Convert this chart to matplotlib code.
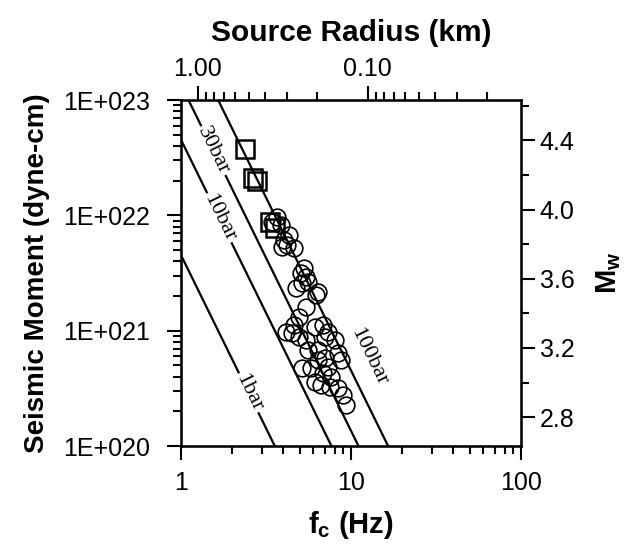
import numpy as np
import matplotlib
matplotlib.use('Agg')
import matplotlib.pyplot as plt
from matplotlib.ticker import FixedLocator, FixedFormatter, FuncFormatter, LogLocator, NullFormatter

plt.rcParams['font.family'] = ['Liberation Sans', 'DejaVu Sans']
plt.rcParams['mathtext.fontset'] = 'custom'
plt.rcParams['mathtext.rm'] = 'Liberation Sans'
plt.rcParams['mathtext.bf'] = 'Liberation Sans:bold'

# corner frequency (Hz) and seismic moment (dyne-cm)
sq_fc = [2.39, 2.66, 2.80, 3.34, 3.57]
sq_m0 = [3.76e22, 2.11e22, 1.99e22, 8.75e21, 7.76e21]

circ_fc = [3.66, 3.43, 3.87, 4.30, 4.02, 4.60, 4.19, 3.92, 5.26, 5.05,
           5.40, 4.72, 5.12, 5.62, 6.26, 6.43, 5.40, 4.92, 4.60, 4.13,
           4.48, 4.92, 5.47, 6.18, 6.87, 7.35, 8.07, 7.06, 5.62, 6.43,
           8.40, 7.06, 8.75, 6.43, 5.12, 5.85, 7.35, 6.87, 7.65, 6.18,
           6.69, 7.55, 8.40, 8.98, 9.35]
circ_m0 = [9.68e21, 8.75e21, 8.25e21, 6.76e21, 6.11e21, 5.21e21, 5.53e21, 5.31e21, 3.49e21, 3.16e21,
           2.92e21, 2.34e21, 2.59e21, 2.64e21, 2.04e21, 2.16e21, 1.60e21, 1.31e21, 1.12e21, 9.73e20,
           9.55e20, 8.81e20, 8.30e20, 1.08e21, 1.12e21, 9.73e20, 8.30e20, 8.81e20, 6.80e20, 6.80e20,
           6.40e20, 5.79e20, 5.57e20, 5.57e20, 4.75e20, 4.75e20, 4.84e20, 4.30e20, 3.97e20, 3.59e20,
           3.38e20, 3.25e20, 3.18e20, 2.77e20, 2.27e20]

stress_drops = [1, 10, 30, 100]          # bar
stress_labels = ['1bar', '10bar', '30bar', '100bar']
label_fc = [2.5, 1.68, 1.55, None]

radius_major = [1.0, 0.1]
radius_minor = [0.9, 0.8, 0.7, 0.6, 0.5, 0.4, 0.3, 0.2,
                0.09, 0.08, 0.07, 0.06, 0.05, 0.04, 0.03, 0.02]

beta = 3.37                               # km/s
k_r = 2.34 * beta / (2 * np.pi)           # r (km) = k_r / fc


def brune_m0(fc, ds):
    r_cm = k_r / fc * 1e5
    return 16.0 / 7.0 * ds * 1e6 * r_cm ** 3


def mw(m0):
    return 2.0 / 3.0 * np.log10(m0) - 10.7


fig = plt.figure(figsize=(6.25, 5.48), dpi=100)
ax = fig.add_axes([0.2896, 0.1861, 0.544, 0.6314])
ax.set_xscale('log')
ax.set_yscale('log')
ax.set_xlim(1, 100)
ax.set_ylim(1e20, 1e23)

fc_line = np.logspace(0, 2, 300)
for ds in stress_drops:
    ax.plot(fc_line, brune_m0(fc_line, ds), color='black', lw=1.6, zorder=2)

ax.plot(circ_fc, circ_m0, 'o', mfc='none', mec='black', ms=12, mew=1.2, zorder=3)
ax.plot(sq_fc, sq_m0, 's', mfc='none', mec='black', ms=12.5, mew=1.8, zorder=3)

# rotation of the stress-drop lines in screen space
p1 = ax.transData.transform((2.0, brune_m0(2.0, 1)))
p2 = ax.transData.transform((4.0, brune_m0(4.0, 1)))
ang = np.degrees(np.arctan2(p2[1] - p1[1], p2[0] - p1[0]))

for ds, lab, f in zip(stress_drops, stress_labels, label_fc):
    if f is None:
        ax.text(12.8, 5.9e20, lab, rotation=ang, ha='center', va='center',
                family='Liberation Serif', fontsize=16, zorder=4)
    else:
        ax.text(f, brune_m0(f, ds), lab, rotation=ang, ha='center', va='center',
                family='Liberation Serif', fontsize=16, zorder=4,
                bbox=dict(facecolor='white', edgecolor='none', pad=1.5))

ax.xaxis.set_major_formatter(FuncFormatter(lambda v, p: '%g' % v))
ax.xaxis.set_minor_formatter(NullFormatter())
ax.yaxis.set_major_formatter(FuncFormatter(lambda v, p: '1E+%03d' % round(np.log10(v))))
ax.yaxis.set_minor_locator(LogLocator(base=10, subs=np.arange(2, 10), numticks=20))
ax.yaxis.set_minor_formatter(NullFormatter())

for s in ax.spines.values():
    s.set_linewidth(1.8)

ax.tick_params(which='both', direction='out', labelsize=18, width=1.5)
ax.tick_params(which='major', length=10)
ax.tick_params(which='minor', length=6)
ax.tick_params(axis='x', pad=8)
ax.tick_params(axis='y', pad=12)

ax.set_xlabel(r'$\mathbf{f_c}$ (Hz)', fontsize=21, fontweight='bold', labelpad=10)
ax.set_ylabel('Seismic Moment (dyne-cm)', fontsize=20, fontweight='bold', labelpad=10)

# top axis: source radius
ax2 = ax.twiny()
ax2.set_xscale('log')
ax2.set_xlim(1, 100)
ax2.xaxis.set_major_locator(FixedLocator([k_r / r for r in radius_major]))
ax2.xaxis.set_major_formatter(FixedFormatter(['%.2f' % r for r in radius_major]))
ax2.xaxis.set_minor_locator(FixedLocator([k_r / r for r in radius_minor]))
ax2.xaxis.set_minor_formatter(NullFormatter())
ax2.tick_params(which='both', direction='out', labelsize=18, width=1.5)
ax2.tick_params(which='major', length=10)
ax2.tick_params(which='minor', length=6)
ax2.set_xlabel('Source Radius (km)', fontsize=21.5, fontweight='bold', labelpad=12)

# right axis: moment magnitude
ax3 = ax.twinx()
ax3.set_ylim(mw(1e20), mw(1e23))
ax3.yaxis.set_major_locator(FixedLocator([2.8, 3.2, 3.6, 4.0, 4.4]))
ax3.yaxis.set_major_formatter(FuncFormatter(lambda v, p: '%.1f' % v))
ax3.yaxis.set_minor_locator(FixedLocator([3.0, 3.4, 3.8, 4.2, 4.6]))
ax3.tick_params(which='both', direction='out', labelsize=18, width=1.5)
ax3.tick_params(which='major', length=10)
ax3.tick_params(which='minor', length=6)
ax3.set_ylabel(r'$\mathbf{M_w}$', fontsize=21, labelpad=14)

fig.savefig('out.png', dpi=100)
